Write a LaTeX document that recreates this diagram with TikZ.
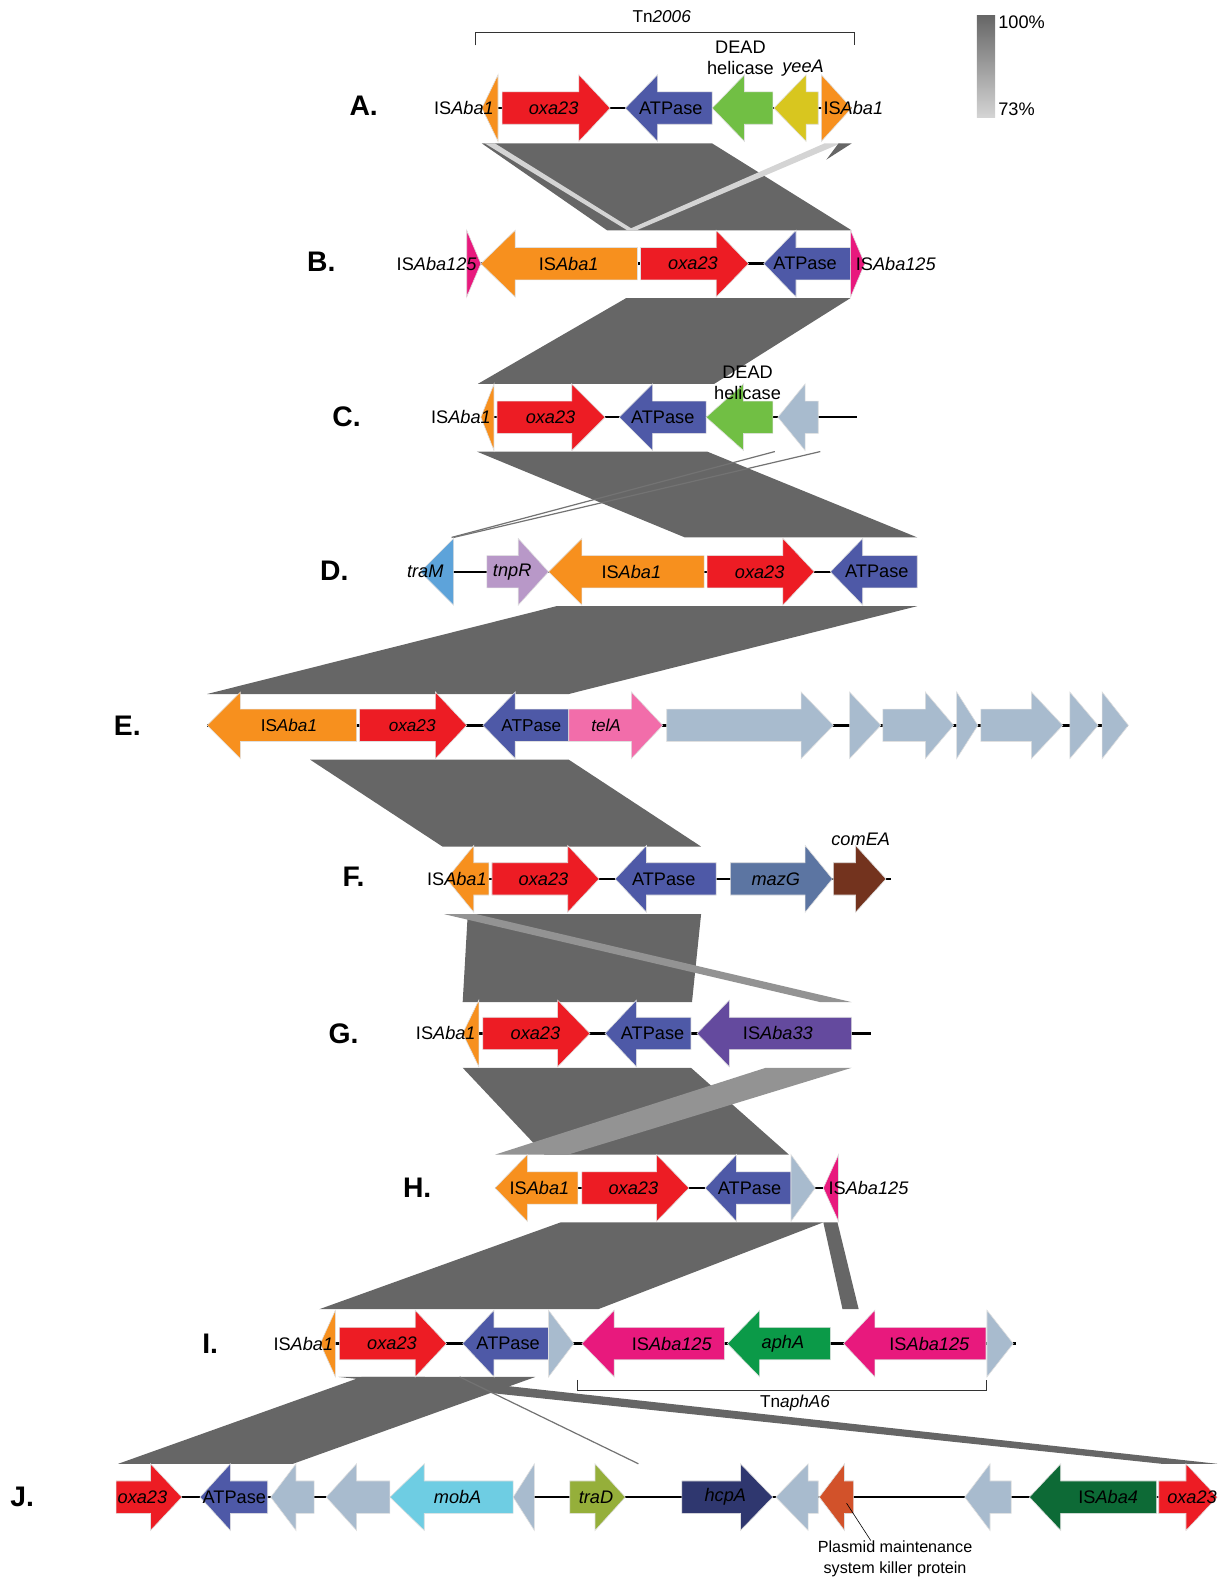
\documentclass[tikz,border=0pt]{standalone}
\usepackage{fontspec}
\setmainfont{Liberation Sans}
\usetikzlibrary{positioning}

\definecolor{isone}{HTML}{F7901E}
\definecolor{oxa}{HTML}{ED1C24}
\definecolor{atp}{HTML}{4E59A7}
\definecolor{dead}{HTML}{71BF44}
\definecolor{yee}{HTML}{D8C61F}
\definecolor{ispink}{HTML}{E8197D}
\definecolor{hyp}{HTML}{A8BBCE}
\definecolor{tram}{HTML}{5DA3DA}
\definecolor{tnpr}{HTML}{B898C8}
\definecolor{tela}{HTML}{F26DAA}
\definecolor{mazg}{HTML}{5C75A2}
\definecolor{comea}{HTML}{73331E}
\definecolor{isxxxiii}{HTML}{644A9E}
\definecolor{apha}{HTML}{0B9A48}
\definecolor{moba}{HTML}{6ECDE3}
\definecolor{trad}{HTML}{95AF3A}
\definecolor{hcpa}{HTML}{2F376F}
\definecolor{killer}{HTML}{D2522A}
\definecolor{isfour}{HTML}{0D6A36}
\definecolor{ribdark}{HTML}{666666}
\definecolor{ribmid}{HTML}{939393}
\definecolor{riblight}{HTML}{D4D4D4}

% one row of gene arrows: tail/head base/tip/colour
\newcommand{\generow}[2]{%
\foreach \t/\b/\p/\c in {#2}{
\filldraw[gene,fill=\c] (\t,#1-16) -- (\b,#1-16) -- (\b,#1-33) -- (\p,#1) -- (\b,#1+33) -- (\b,#1+16) -- (\t,#1+16) -- cycle;
}}

\begin{document}
\begin{tikzpicture}[x=1pt,y=-1pt,
gene/.style={draw=white!75!gray,line width=0.6pt},
bb/.style={line width=2.4pt},
rib/.style={fill=ribdark},
ribthin/.style={draw=black!55,line width=1.2pt},
brk/.style={draw=black!80,line width=0.9pt},
lbl/.style={font=\fontsize{18}{21}\selectfont,inner sep=0pt},
elbl/.style={font=\fontsize{17}{20}\selectfont,inner sep=0pt},
rowlbl/.style={font=\fontsize{28}{30}\selectfont\bfseries,inner sep=0pt}]
\useasboundingbox (0,0) rectangle (1205,1568);

% legend
\shade[top color=ribdark,bottom color=riblight] (967,15) rectangle (985,116);
\node[lbl,anchor=west] (pc100) at (988,22) {100\%};
\node[lbl,anchor=west] (pc73) at (988,108) {73\%};

% blast ribbons
\fill[rib] (477,142) -- (705,142) -- (843,228) -- (601,228) -- cycle;
\fill[riblight] (480,142) -- (490,142) -- (628,228) -- (621,228) -- cycle;
\fill[riblight] (816,142) -- (832,142) -- (630,228) -- (620,228) -- cycle;
\fill[rib] (830,142) -- (843,142) -- (818,158) -- cycle;
\fill[rib] (620,295) -- (842,295) -- (707,380) -- (473,380) -- cycle;
\fill[rib] (472,447) -- (700,447) -- (908,532) -- (678,532) -- cycle;
\draw[ribthin] (767,447) -- (447,532);
\draw[ribthin] (812,447) -- (449,532);
\fill[rib] (551,600) -- (908,600) -- (563,687) -- (205,687) -- cycle;
\fill[rib] (307,752) -- (563,752) -- (694,838) -- (438,838) -- cycle;
\fill[rib] (463,905) -- (694,905) -- (685,992) -- (458,992) -- cycle;
\fill[ribmid] (440,905) -- (472,905) -- (843,992) -- (812,992) -- cycle;
\fill[rib] (458,1057) -- (684,1057) -- (781,1143) -- (539,1143) -- cycle;
\fill[ribmid] (758,1057) -- (843,1057) -- (562,1143) -- (490,1143) -- cycle;
\fill[rib] (555,1210) -- (815,1210) -- (592,1296) -- (316,1296) -- cycle;
\fill[rib] (815,1210) -- (829,1210) -- (850,1296) -- (834,1296) -- cycle;
\fill[rib] (358,1363) -- (530,1363) -- (290,1449) -- (117,1449) -- cycle;
\fill[rib] (335,1363) -- (420,1363) -- (1205,1449) -- (1150,1449) -- cycle;
\draw[ribthin] (455,1363) -- (632,1449);

% A
\node[rowlbl] (a) at (360,105) {A.};
\draw[bb] (477,107) -- (843,107);
\generow{107}{493/493/477/isone, 497/573/604/oxa, 705/651/619/atp, 765/737/705/dead, 810/798/766/yee, 813/813/843/isone}
\node[lbl,anchor=east] (a-is1) at (489,107) {IS\textit{Aba1}};
\node[lbl] (a-oxa) at (548,107) {\textit{oxa23}};
\node[lbl] (a-atp) at (664,107) {ATPase};
\node[lbl,align=center] (a-dead) at (733,57) {DEAD\\helicase};
\node[lbl] (a-yee) at (795,67) {\textit{yeeA}};
\node[lbl,anchor=west] (a-is1r) at (815,107) {IS\textit{Aba1}};
\draw[brk] (471,45) -- (471,32) -- (846,32) -- (846,45);
\node[lbl,font=\fontsize{17}{19}\selectfont] (tn2006) at (655,16) {Tn\textit{2006}};

% B
\node[rowlbl] (b) at (318,259) {B.};
\draw[bb] (462,261) -- (856,261);
\generow{261}{462/462/476/ispink, 631/510/476/isone, 634/709/741/oxa, 842/788/756/atp, 842/842/856/ispink}
\node[lbl,anchor=east] (b-is125) at (472,261) {IS\textit{Aba125}};
\node[lbl] (b-is1) at (563,261) {IS\textit{Aba1}};
\node[lbl] (b-oxa) at (686,261) {\textit{oxa23}};
\node[lbl] (b-atp) at (797,261) {ATPase};
\node[lbl,anchor=west] (b-is125r) at (847,261) {IS\textit{Aba125}};

% C
\node[rowlbl] (c) at (343,413) {C.};
\draw[bb] (476,413) -- (848,413);
\generow{413}{489/489/476/isone, 492/566/599/oxa, 699/646/613/atp, 765/736/699/dead, 810/797/770/hyp}
\node[lbl,anchor=east] (c-is1) at (486,413) {IS\textit{Aba1}};
\node[lbl] (c-oxa) at (545,413) {\textit{oxa23}};
\node[lbl] (c-atp) at (656,413) {ATPase};
\node[lbl,align=center] (c-dead) at (740,379) {DEAD\\helicase};

% D
\node[rowlbl] (d) at (331,565) {D.};
\draw[bb] (447,566) -- (908,566);
\generow{566}{449/449/416/tram, 482/513/543/tnpr, 697/576/543/isone, 700/775/806/oxa, 908/854/822/atp}
\node[lbl] (d-tram) at (421,566) {\textit{traM}};
\node[lbl] (d-tnpr) at (507,566) {\textit{tnpR}};
\node[lbl] (d-is1) at (625,566) {IS\textit{Aba1}};
\node[lbl] (d-oxa) at (752,566) {\textit{oxa23}};
\node[lbl] (d-atp) at (868,566) {ATPase};

% E
\node[rowlbl] (e) at (126,718) {E.};
\draw[bb] (205,718) -- (1117,718);
\generow{718}{353/238/205/isone, 356/431/462/oxa, 563/510/478/atp, 563/625/656/tela, 660/793/825/hyp, 841/841/872/hyp, 874/916/944/hyp, 947/947/968/hyp, 971/1021/1052/hyp, 1059/1059/1087/hyp, 1091/1091/1117/hyp}
\node[elbl] (e-is1) at (286,718) {IS\textit{Aba1}};
\node[elbl] (e-oxa) at (408,718) {\textit{oxa23}};
\node[elbl] (e-atp) at (526,718) {ATPase};
\node[elbl] (e-tela) at (600,718) {\textit{telA}};

% F
\node[rowlbl] (f) at (350,868) {F.};
\draw[bb] (442,870) -- (882,870);
\generow{870}{484/469/442/isone, 487/562/593/oxa, 709/640/609/atp, 723/797/824/mazg, 825/847/877/comea}
\node[lbl,anchor=east] (f-is1) at (482,870) {IS\textit{Aba1}};
\node[lbl] (f-oxa) at (538,870) {\textit{oxa23}};
\node[lbl] (f-atp) at (657,870) {ATPase};
\node[lbl] (f-mazg) at (768,870) {\textit{mazG}};
\node[lbl] (f-comea) at (852,831) {\textit{comEA}};

% G
\node[rowlbl] (g) at (340,1023) {G.};
\draw[bb] (458,1023) -- (862,1023);
\generow{1023}{474/474/458/isone, 478/552/584/oxa, 684/630/599/atp, 843/722/690/isxxxiii}
\node[lbl,anchor=east] (g-is1) at (471,1023) {IS\textit{Aba1}};
\node[lbl] (g-oxa) at (530,1023) {\textit{oxa23}};
\node[lbl] (g-atp) at (646,1023) {ATPase};
\node[lbl] (g-is33) at (770,1023) {IS\textit{Aba33}};

% H
\node[rowlbl] (h) at (413,1176) {H.};
\draw[bb] (490,1176) -- (830,1176);
\generow{1176}{572/522/490/isone, 576/650/682/oxa, 783/729/698/atp, 783/783/807/hyp, 830/830/815/ispink}
\node[lbl] (h-is1) at (534,1176) {IS\textit{Aba1}};
\node[lbl] (h-oxa) at (627,1176) {\textit{oxa23}};
\node[lbl] (h-atp) at (742,1176) {ATPase};
\node[lbl,anchor=west] (h-is125) at (820,1176) {IS\textit{Aba125}};

% I
\node[rowlbl] (i) at (208,1330) {I.};
\draw[bb] (317,1330) -- (1006,1330);
\generow{1330}{332/332/317/isone, 336/411/442/oxa, 543/489/458/atp, 543/543/568/hyp, 717/608/576/ispink, 822/752/720/apha, 976/866/835/ispink, 977/977/1003/hyp}
\node[lbl,anchor=east] (i-is1) at (330,1330) {IS\textit{Aba1}};
\node[lbl] (i-oxa) at (388,1330) {\textit{oxa23}};
\node[lbl] (i-atp) at (503,1330) {ATPase};
\node[lbl] (i-is125) at (665,1330) {IS\textit{Aba125}};
\node[lbl] (i-apha) at (775,1330) {\textit{aphA}};
\node[lbl] (i-is125r) at (920,1330) {IS\textit{Aba125}};
\draw[brk] (572,1366) -- (572,1376) -- (976,1376) -- (976,1366);
\node[lbl,font=\fontsize{17}{19}\selectfont] (tnapha6) at (787,1389) {Tn\textit{aphA6}};

% J
\node[rowlbl] (j) at (22,1482) {J.};
\draw[bb] (115,1482) -- (1205,1482);
\generow{1482}{115/149/180/oxa, 265/228/198/atp, 311/293/268/hyp, 386/353/323/hyp, 508/420/386/moba, 529/529/508/hyp, 564/589/619/trad, 675/733/765/hcpa, 810/800/768/hyp, 845/836/811/killer, 1001/980/955/hyp, 1145/1050/1019/isfour, 1147/1174/1205/oxa}
\node[lbl] (j-oxa) at (141,1482) {\textit{oxa23}};
\node[lbl] (j-atp) at (232,1482) {ATPase};
\node[lbl] (j-moba) at (453,1482) {\textit{mobA}};
\node[lbl] (j-trad) at (590,1482) {\textit{traD}};
\node[lbl] (j-hcpa) at (718,1482) {\textit{hcpA}};
\node[lbl] (j-is4) at (1097,1482) {IS\textit{Aba4}};
\node[lbl] (j-oxar) at (1180,1482) {\textit{oxa23}};
\coordinate (kp) at (838,1488);
\node[lbl,font=\fontsize{16}{21}\selectfont,align=center,anchor=north] (kp-lbl) at (886,1525) {Plasmid maintenance\\system killer protein};
\draw[line width=0.6pt] (kp) -- ([xshift=-24pt]kp-lbl.north);
\end{tikzpicture}
\end{document}
